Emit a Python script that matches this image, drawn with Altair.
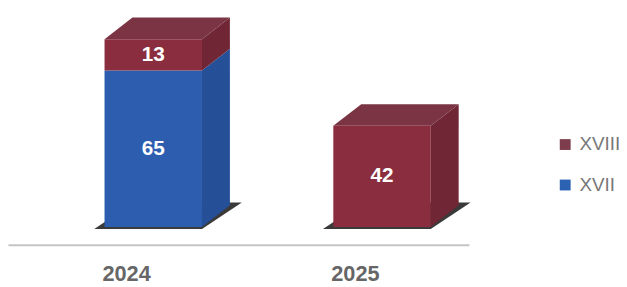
import altair as alt
import pandas as pd

# ---- data ----
years = ["2024", "2025"]
series = ["XVII", "XVIII"]
xvii = [65, 0]
xviii = [13, 42]

# ---- style / geometry (in data units) ----
FW = 0.426      # front face width
DX = 0.122      # depth offset x
DY = 9.0        # depth offset y
FLOOR_E = 0.045 # floor extension left
FLOOR_DX = 0.174
FLOOR_DY = 11.0
FLOOR_Y = -0.9

colors = {
    "XVII": {"front": "#2c5daf", "side": "#254f97", "top": "#2a559f"},
    "XVIII": {"front": "#8a2e3f", "side": "#702634", "top": "#7a3443"},
}
legend_colors = ["#7e3d4d", "#2c62b2"]
floor_color = "#3a3a3a"

fronts, areas, labels, ylabels = [], [], [], []
pid = 0
for i, yr in enumerate(years):
    a = i - FW / 2
    b = i + FW / 2
    # floor
    pid += 1
    for xx, lo, hi in [
        (a - FLOOR_E, FLOOR_Y, FLOOR_Y),
        (a - FLOOR_E + FLOOR_DX, FLOOR_Y, FLOOR_Y + FLOOR_DY),
        (b, FLOOR_Y, FLOOR_Y + FLOOR_DY),
        (b + FLOOR_DX, FLOOR_Y + FLOOR_DY, FLOOR_Y + FLOOR_DY),
    ]:
        areas.append(dict(pid=pid, layer=0, x=xx, y=lo, y2=hi, fill=floor_color))
    base = 0
    segs = [(s, v) for s, v in zip(series, [xvii[i], xviii[i]]) if v > 0]
    for k, (s, v) in enumerate(segs):
        lo, hi = base, base + v
        fronts.append(dict(x=a, x2=b, y=lo, y2=hi, fill=colors[s]["front"]))
        labels.append(dict(x=i, y=(lo + hi) / 2, label=str(v)))
        # side face
        pid += 1
        areas.append(dict(pid=pid, layer=1, x=b, y=lo, y2=hi, fill=colors[s]["side"]))
        areas.append(dict(pid=pid, layer=1, x=b + DX, y=lo + DY, y2=hi + DY, fill=colors[s]["side"]))
        if k == len(segs) - 1:
            pid += 1
            for xx, l2, h2 in [
                (a, hi, hi),
                (a + DX, hi, hi + DY),
                (b, hi, hi + DY),
                (b + DX, hi + DY, hi + DY),
            ]:
                areas.append(dict(pid=pid, layer=2, x=xx, y=l2, y2=h2, fill=colors[s]["top"]))
        base = hi
    ylabels.append(dict(x=i, label=yr))

front_df = pd.DataFrame(fronts)
area_df = pd.DataFrame(areas)
label_df = pd.DataFrame(labels)
ylab_df = pd.DataFrame(ylabels)
leg_df = pd.DataFrame({"series": ["XVIII", "XVII"], "x": [0, 0], "y": [0, 0]})

xs = alt.Scale(domain=[-0.635, 1.38], nice=False, zero=False)
ys = alt.Scale(domain=[-7.4, 90.2], nice=False, zero=False)

X = alt.X("x:Q", scale=xs, axis=alt.Axis(domainColor="#c4c4c4", domainWidth=2, ticks=False,
                                          labels=False, grid=False, title=None))
Y = alt.Y("y:Q", scale=ys, axis=None)

area_layers = []
for layer in [0, 1, 2]:
    area_layers.append(
        alt.Chart(area_df[area_df.layer == layer]).mark_area(interpolate="linear").encode(
            x=X, y=Y, y2="y2:Q", detail="pid:N", fill=alt.Fill("fill:N", scale=None)
        )
    )

front = alt.Chart(front_df).mark_rect().encode(
    x=X, x2="x2:Q", y=Y, y2="y2:Q", fill=alt.Fill("fill:N", scale=None)
)

lab = alt.Chart(label_df).mark_text(
    font="Liberation Sans", fontWeight="bold", fontSize=21, color="white", baseline="middle"
).encode(x=X, y=Y, text="label:N")

ylab = alt.Chart(ylab_df).mark_text(
    font="Liberation Sans", fontWeight="bold", fontSize=22, color="#666666",
    baseline="middle", dx=-27
).encode(x=X, y=alt.value(268), text="label:N")

leg = alt.Chart(leg_df).mark_square(opacity=0).encode(
    x=X, y=Y,
    color=alt.Color("series:N", scale=alt.Scale(domain=["XVIII", "XVII"], range=legend_colors),
                    legend=alt.Legend(orient="none", legendX=555, legendY=127, title=None,
                                      symbolType="square", symbolSize=121, symbolOpacity=1,
                                      symbolStrokeWidth=0,
                                      labelFont="Liberation Sans", labelFontSize=19,
                                      labelColor="#777777", labelOffset=5, rowPadding=21,
                                      padding=0, labelLimit=200))
)

chart = alt.layer(area_layers[0], area_layers[1], area_layers[2], front, lab, ylab, leg).properties(
    width=467, height=238,
    autosize=alt.AutoSizeParams(type="none"),
    padding={"left": 0, "top": 0, "right": 152, "bottom": 41},
    background="white",
).configure_view(strokeWidth=0, stroke="transparent")

chart.save("out.html", embed_options={"renderer": "svg", "actions": False})
